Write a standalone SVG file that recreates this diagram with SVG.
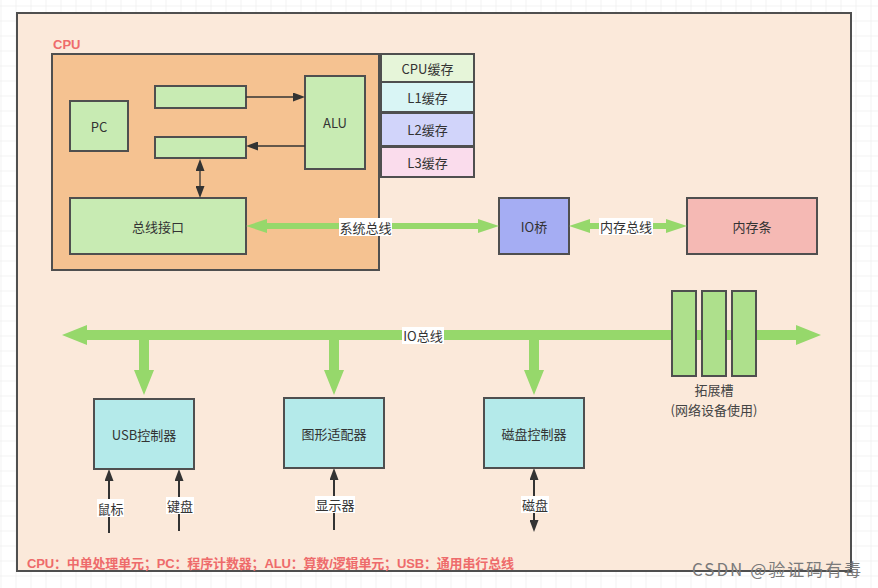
<svg xmlns="http://www.w3.org/2000/svg" width="878" height="588" viewBox="0 0 878 588">
<defs>
<pattern id="grid" x="0.5" y="5.5" width="15" height="15" patternUnits="userSpaceOnUse">
<path d="M0,0 H15 M0,0 V15" fill="none" stroke="#e8e8e8" stroke-width="1"/>
</pattern>
<marker id="ah" viewBox="0 0 12 9" refX="6" refY="4.5" markerWidth="12" markerHeight="9" markerUnits="userSpaceOnUse" orient="auto-start-reverse">
<path d="M0,0 L12,4.5 L0,9 z" fill="#333"/>
</marker>
<style>
.box{stroke:#4f4f4f;stroke-width:2}
.t{font-family:"Noto Sans CJK SC","Liberation Sans",sans-serif;font-size:13px;fill:#333;text-anchor:middle;dominant-baseline:central}
.red{font-family:"Liberation Sans","Noto Sans CJK SC",sans-serif;font-weight:bold;font-size:13px;fill:#ee6b6b}
.green{fill:#c8ebb3}
.cyan{fill:#b4eaea}
.bus{fill:#96d86b}
.dark{stroke:#333;stroke-width:2;fill:none}
.thin{stroke:#333;stroke-width:1.3;fill:none}
.lbl{fill:#ffffff}
</style>
</defs>
<rect width="878" height="588" fill="#ffffff"/>
<rect width="878" height="588" fill="url(#grid)"/>
<rect x="17" y="13" width="834" height="558" fill="#fbe9da" stroke="#4f4f4f" stroke-width="2"/>
<text x="53" y="49" class="red">CPU</text>

<g id="cpu"><rect x="52" y="54" width="327" height="216" fill="#f5c291" class="box"/></g>
<g id="pc"><rect x="70" y="101" width="58" height="50" class="box green"/><text x="99" y="126" class="t">PC</text></g>
<g id="reg1"><rect x="155" y="86" width="91" height="22" class="box green"/></g>
<g id="reg2"><rect x="155" y="137" width="91" height="21" class="box green"/></g>
<g id="alu"><rect x="305" y="76" width="60" height="93" class="box green"/><text x="335" y="122" class="t">ALU</text></g>
<g id="bus-if"><rect x="70" y="198" width="176" height="56" class="box green"/><text x="158" y="226" class="t">总线接口</text></g>

<g id="cache-cpu"><rect x="381" y="54" width="93" height="28" fill="#e6f5d9" class="box"/><text x="427.5" y="68" class="t">CPU缓存</text></g>
<g id="cache-l1"><rect x="381" y="82" width="93" height="30" fill="#d9f5f5" class="box"/><text x="427.5" y="97" class="t">L1缓存</text></g>
<g id="cache-l2"><rect x="381" y="113" width="93" height="33" fill="#d1d4fa" class="box"/><text x="427.5" y="129.5" class="t">L2缓存</text></g>
<g id="cache-l3"><rect x="381" y="147" width="93" height="30" fill="#fadcec" class="box"/><text x="427.5" y="162" class="t">L3缓存</text></g>

<g id="io-bridge"><rect x="499" y="198" width="70" height="56" fill="#a5adf3" class="box"/><text x="534" y="226" class="t">IO桥</text></g>
<g id="memory"><rect x="687" y="198" width="130" height="56" fill="#f5b9b4" class="box"/><text x="752" y="226" class="t">内存条</text></g>

<g id="connectors">
<line x1="246" y1="97" x2="299" y2="97" class="thin" marker-end="url(#ah)"/>
<line x1="305" y1="146" x2="252" y2="146" class="thin" marker-end="url(#ah)"/>
<line x1="200" y1="165" x2="200" y2="192" class="thin" marker-start="url(#ah)" marker-end="url(#ah)"/>

<rect x="267" y="223" width="211" height="6" class="bus"/>
<polygon points="246,226 267,219 267,233" class="bus"/>
<polygon points="499,226 478,219 478,233" class="bus"/>
<rect x="339" y="218" width="53" height="18" class="lbl"/>
<text x="365.5" y="227" class="t">系统总线</text>

<rect x="590" y="223" width="76" height="6" class="bus"/>
<polygon points="569,226 590,219 590,233" class="bus"/>
<polygon points="687,226 666,219 666,233" class="bus"/>
<rect x="599" y="218" width="54" height="17" class="lbl"/>
<text x="626" y="226.5" class="t">内存总线</text>

<rect x="87" y="330" width="709" height="10" class="bus"/>
<polygon points="62,335 87,325 87,345" class="bus"/>
<polygon points="821,335 796,325 796,345" class="bus"/>
<rect x="139" y="335" width="10" height="35" class="bus"/>
<polygon points="134,370 154,370 144,395" class="bus"/>
<rect x="329" y="335" width="10" height="35" class="bus"/>
<polygon points="324,370 344,370 334,395" class="bus"/>
<rect x="529" y="335" width="10" height="35" class="bus"/>
<polygon points="524,370 544,370 534,395" class="bus"/>
<rect x="402" y="327" width="42" height="17" class="lbl"/>
<text x="423" y="335.5" class="t">IO总线</text>

<line x1="109" y1="533" x2="109" y2="475" class="dark" marker-end="url(#ah)"/>
<line x1="179" y1="531" x2="179" y2="475" class="dark" marker-end="url(#ah)"/>
<line x1="334" y1="530" x2="334" y2="474" class="dark" marker-end="url(#ah)"/>
<line x1="534" y1="474" x2="534" y2="526" class="dark" marker-start="url(#ah)" marker-end="url(#ah)"/>
<rect x="97" y="499" width="27" height="18" class="lbl"/>
<text x="110.5" y="508" class="t">鼠标</text>
<rect x="166" y="497" width="28" height="17" class="lbl"/>
<text x="180" y="505.5" class="t">键盘</text>
<rect x="315" y="496" width="40" height="17" class="lbl"/>
<text x="335" y="504.5" class="t">显示器</text>
<rect x="521" y="496" width="28" height="17" class="lbl"/>
<text x="535" y="504.5" class="t">磁盘</text>
</g>

<g id="slots">
<rect x="672" y="291" width="24" height="85" fill="#aee08c" class="box"/>
<rect x="702" y="291" width="24" height="85" fill="#aee08c" class="box"/>
<rect x="732" y="291" width="24" height="85" fill="#aee08c" class="box"/>
<text x="714" y="389" class="t" style="fill:#444">拓展槽</text>
<text x="714" y="409" class="t" style="fill:#444">(网络设备使用)</text>
</g>

<g id="usb"><rect x="94" y="399" width="100" height="70" class="box cyan"/><text x="144" y="434" class="t">USB控制器</text></g>
<g id="gpu"><rect x="284" y="398" width="100" height="70" class="box cyan"/><text x="334" y="433" class="t">图形适配器</text></g>
<g id="disk-ctrl"><rect x="484" y="398" width="100" height="70" class="box cyan"/><text x="534" y="433" class="t">磁盘控制器</text></g>

<text x="27" y="568" class="red" textLength="487">CPU：中单处理单元；PC：程序计数器；ALU：算数/逻辑单元；USB：通用串行总线</text>
<text x="692" y="576" font-family="'Noto Sans CJK SC','Liberation Sans',sans-serif" font-size="17" fill="#7a7a7a" textLength="169">CSDN @验证码有毒</text>
</svg>
